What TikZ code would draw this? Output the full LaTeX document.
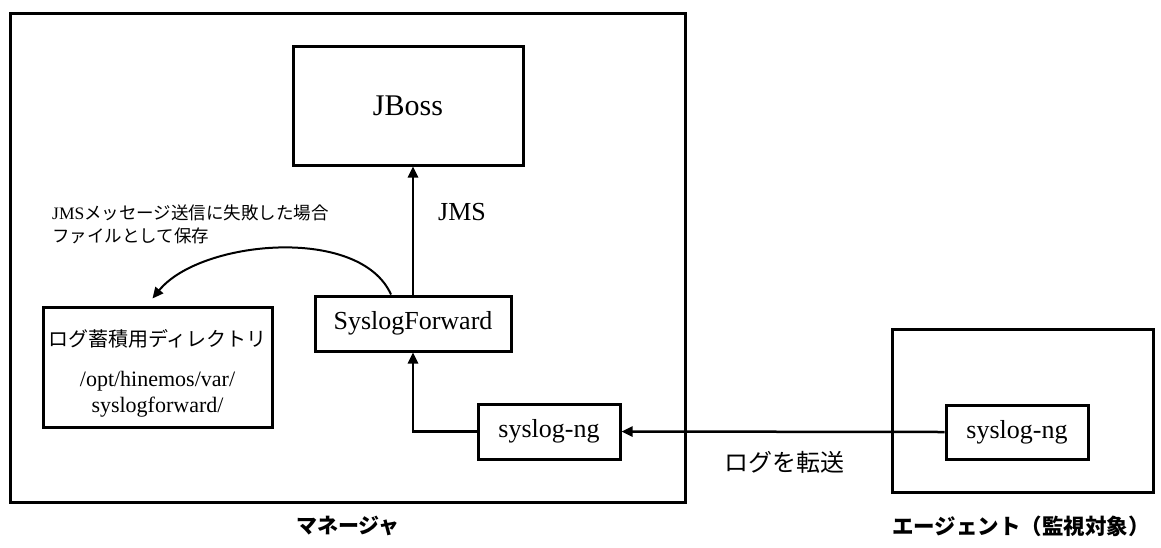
\documentclass[tikz,border=0pt]{standalone}
\usepackage{fontspec}
\setmainfont{Liberation Serif}
\newfontfamily\jpf{Noto Sans CJK JP}
\usetikzlibrary{arrows.meta,positioning,calc}

\begin{document}
\begin{tikzpicture}[x=1pt,y=-1pt,
        box/.style={draw,line width=3pt,inner sep=0pt,align=center},
        arr/.style={draw,line width=2.5pt,-{Triangle[length=11pt,width=10pt]}}]
        \useasboundingbox(0,0)rectangle(1161,547);
        % manager side
        \node[box,minimum width=675pt,minimum height=489pt](mgr)at(347.5,257.5){};
        \node[box,minimum width=230pt,minimum height=119pt,font=\fontsize{30}{36}\selectfont](jboss)at(408,105.5){JBoss};
        \node[box,minimum width=196pt,minimum height=55pt,font=\fontsize{26}{30}\selectfont](sf)at(413,323.5){SyslogForward};
        \node[box,minimum width=142pt,minimum height=55pt,font=\fontsize{26}{30}\selectfont](sng)at(549,431.5){syslog-ng};
        \node[box,minimum width=229pt,minimum height=120pt,font=\fontsize{22}{26}\selectfont](logdir)at(157.5,367)
            {\rule{0pt}{30pt}{\jpf\fontsize{20}{26}\selectfont ログ蓄積用ディレクトリ}\\[14pt]/opt/hinemos/var/\\syslogforward/};
        % agent side
        \node[box,minimum width=261pt,minimum height=163pt](agt)at(1022.5,410.5){};
        \node[box,minimum width=142pt,minimum height=54pt,font=\fontsize{26}{30}\selectfont](asng)at(1017,432){syslog-ng};
        % labels
        \node[font=\fontsize{26}{30}\selectfont](jms)at(462,212){JMS};
        \node[anchor=west,inner sep=0pt,align=left,font=\fontsize{17.5}{23}\selectfont](note)at(52,224)
            {JMS{\jpf メッセージ送信に失敗した場合}\\{\jpf ファイルとして保存}};
        \node[font=\jpf\fontsize{24}{28}\selectfont](fwd)at(784,462){ログを転送};
        \node[font=\jpf\bfseries\fontsize{21}{24}\selectfont](mgrname)at(348,526){マネージャ};
        \node[font=\jpf\bfseries\fontsize{21.5}{24}\selectfont](agtname)at(1021,526){エージェント（監視対象）};
        % arrows
        \path[arr](sf.north)to(sf.north|-jboss.south);
        \path[arr](sng.west)-|(sf.south);
        \path[arr](asng.west)to(sng.east);
        \path[draw,line width=2pt,-{Triangle[length=11pt,width=10pt]}]($(sf.north)+(-22,0)$)
            ..controls(360,225)and(200,240)..($(logdir.north)+(-5,-7)$);
\end{tikzpicture}
\end{document}
